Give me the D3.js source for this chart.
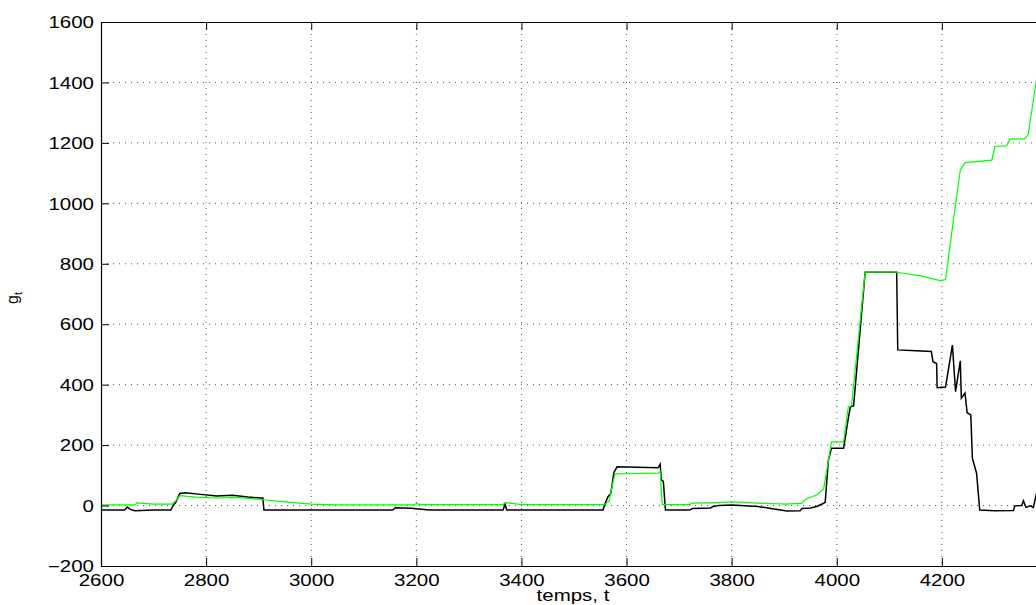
<!DOCTYPE html>
<html lang='en'>
<head>
<meta charset='utf-8'>
<title>g_t over time</title>
<script src='https://cdn.jsdelivr.net/npm/d3@7/dist/d3.min.js'></script>
<style>
  body { margin: 0; background: #fff; }
  text { font-family: 'Liberation Sans', Arial, sans-serif; }
</style>
</head>
<body>
<svg id='svg' width='1036' height='605'></svg>
<script>
// tick values of both axes (the plot runs on past the right edge of the picture)
var xTicks = [2600, 2800, 3000, 3200, 3400, 3600, 3800, 4000, 4200];
var yTicks = [-200, 0, 200, 400, 600, 800, 1000, 1200, 1400, 1600];

// black series
var tBlack = [2600, 2645, 2650, 2655, 2660, 2665, 2700, 2733, 2737, 2742, 2750, 2760, 2790, 2820, 2850, 2880, 2905, 2908, 2910,
  3000, 3100, 3155, 3160, 3190, 3225, 3365, 3369, 3372, 3555, 3560, 3565, 3570, 3576, 3582, 3620, 3660, 3664, 3666, 3670, 3674,
  3720, 3725, 3760, 3765, 3775, 3800, 3850, 3905, 3930, 3934, 3950, 3962, 3972, 3978, 3984, 3990, 4013, 4022, 4026, 4032, 4054,
  4114, 4116, 4150, 4180, 4183, 4190, 4191, 4207, 4220, 4226, 4235, 4237, 4244, 4248, 4255, 4258, 4266, 4272, 4300, 4336, 4339,
  4352, 4355, 4360, 4368, 4374, 4380];
var gBlack = [-15, -15, -5, -12, -15, -17, -15, -15, 0, 10, 40, 42, 37, 32, 34, 28, 25, 25, -15,
  -15, -15, -15, -7, -9, -15, -15, 5, -15, -15, 10, 30, 40, 110, 128, 127, 125, 137, 85, 80, -15,
  -15, -10, -8, -3, 0, 2, -3, -18, -17, -10, -8, -3, 5, 11, 150, 190, 190, 290, 327, 330, 772,
  772, 515, 512, 510, 476, 470, 390, 392, 531, 377, 479, 355, 372, 307, 300, 157, 107, -15, -17, -16, -1,
  0, 16, -6, -1, -6, 40];

// green series
var tGreen = [2600, 2665, 2668, 2700, 2735, 2742, 2750, 2780, 2820, 2860, 2905, 2950, 3000, 3050, 3195, 3200, 3210, 3365, 3369,
  3400, 3555, 3560, 3567, 3572, 3578, 3620, 3660, 3664, 3668, 3720, 3725, 3774, 3800, 3850, 3905, 3934, 3937, 3946, 3962, 3975,
  3990, 4013, 4022, 4028, 4054, 4114, 4159, 4197, 4207, 4222, 4235, 4244, 4295, 4301, 4323, 4330, 4358, 4364, 4379, 4385];
var gGreen = [2, 2, 9, 5, 5, 15, 33, 28, 25, 27, 20, 12, 5, 2, 2, 6, 3, 3, 10,
  3, 3, 5, 15, 60, 105, 106, 107, 112, 3, 3, 8, 10, 12, 8, 5, 8, 15, 25, 35, 55,
  211, 211, 327, 330, 772, 772, 760, 744, 748, 945, 1110, 1135, 1143, 1188, 1190, 1213, 1213, 1227, 1397, 1450];

var svg = d3.select('#svg');
var plotL = 101, plotR = 1047, plotT = 22, plotB = 566;

var x = d3.scaleLinear().domain([2600, 4400]).range([plotL, plotR]);
var y = d3.scaleLinear().domain([-200, 1600]).range([plotB, plotT]);

// dotted grid
svg.append('g').selectAll('line').data(xTicks.slice(1)).enter().append('line')
  .attr('x1', d => x(d)).attr('x2', d => x(d)).attr('y1', plotT).attr('y2', plotB)
  .attr('stroke', '#555').attr('stroke-width', 1).attr('stroke-dasharray', '1,5');
svg.append('g').selectAll('line').data(yTicks.slice(1, -1)).enter().append('line')
  .attr('x1', plotL).attr('x2', plotR).attr('y1', d => y(d)).attr('y2', d => y(d))
  .attr('stroke', '#555').attr('stroke-width', 1).attr('stroke-dasharray', '1,5');

svg.append('defs').append('clipPath').attr('id', 'clip').append('rect')
  .attr('x', plotL).attr('y', plotT).attr('width', plotR - plotL).attr('height', plotB - plotT);

var line = d3.line().x(d => x(d[0])).y(d => y(d[1]));
svg.append('path').datum(d3.zip(tBlack, gBlack)).attr('d', line)
  .attr('fill', 'none').attr('stroke', '#000').attr('stroke-width', 1.5).attr('clip-path', 'url(#clip)');
svg.append('path').datum(d3.zip(tGreen, gGreen)).attr('d', line)
  .attr('fill', 'none').attr('stroke', '#00ff00').attr('stroke-width', 1.2).attr('clip-path', 'url(#clip)');

// axes, ticks pointing inward
function styleAxis(g) {
  g.select('.domain').attr('stroke', '#000').attr('stroke-width', 1.2);
  g.selectAll('.tick line').attr('stroke', '#000');
  g.selectAll('.tick text').attr('fill', '#000').style('font-size', '16px');
}
var xAxis = svg.append('g').attr('transform', 'translate(0,' + plotB + ')')
  .call(d3.axisBottom(x).tickValues(xTicks).tickSizeInner(-8).tickSizeOuter(0).tickPadding(0).tickFormat(d3.format('d')));
styleAxis(xAxis);
xAxis.selectAll('.tick text').attr('y', 20).attr('dy', 0).attr('transform', 'scale(1.28,1)');

var yAxis = svg.append('g').attr('transform', 'translate(' + plotL + ',0)')
  .call(d3.axisLeft(y).tickValues(yTicks).tickSizeInner(-8).tickSizeOuter(0).tickPadding(0)
    .tickFormat(d => d < 0 ? '\u2212' + Math.abs(d) : d));
styleAxis(yAxis);
yAxis.selectAll('.tick text').attr('x', -5.5).attr('dy', '0.36em').attr('transform', 'scale(1.28,1)');

var topAxis = svg.append('g').attr('transform', 'translate(0,' + plotT + ')')
  .call(d3.axisTop(x).tickValues(xTicks).tickSizeInner(-8).tickSizeOuter(0).tickFormat(''));
styleAxis(topAxis);

// axis titles
svg.append('text').attr('x', 573 / 1.28).attr('y', 601).attr('text-anchor', 'middle')
  .attr('transform', 'scale(1.28,1)').style('font-size', '16px').text('temps, t');

var yl = svg.append('text').attr('transform', 'translate(18,298) rotate(-90)')
  .attr('text-anchor', 'middle').style('font-size', '16px');
yl.append('tspan').text('g');
yl.append('tspan').attr('dy', 4).style('font-size', '11px').text('t');
</script>
</body>
</html>
